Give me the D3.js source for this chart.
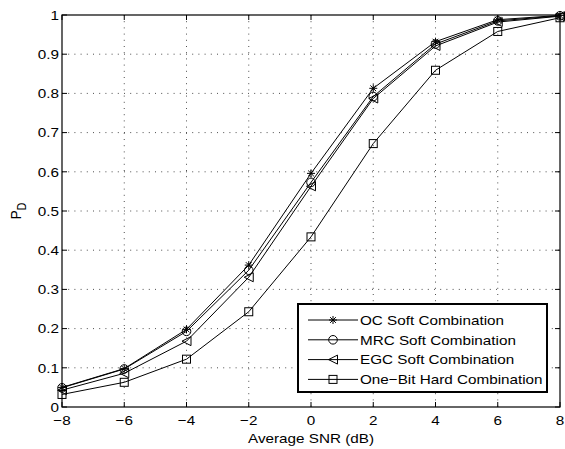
<!DOCTYPE html>
<html>
<head>
<meta charset="utf-8">
<script src="https://cdn.jsdelivr.net/npm/d3@7"></script>
<style>
html,body{margin:0;padding:0;background:#fff;}
svg{display:block;}
text{font-family:"Liberation Sans",Arial,Helvetica,sans-serif;fill:#000;}
</style>
</head>
<body>
<script>
// ---- data ----
const snr = [-8, -6, -4, -2, 0, 2, 4, 6, 8];
const ocSoft = [0.050, 0.098, 0.198, 0.362, 0.596, 0.813, 0.932, 0.988, 0.999];
const mrcSoft = [0.049, 0.097, 0.193, 0.349, 0.573, 0.792, 0.926, 0.985, 0.998];
const egcSoft = [0.043, 0.086, 0.168, 0.331, 0.563, 0.787, 0.921, 0.982, 0.997];
const oneBitHard = [0.032, 0.063, 0.122, 0.243, 0.434, 0.672, 0.859, 0.958, 0.993];
const seriesNames = ["OC Soft Combination", "MRC Soft Combination", "EGC Soft Combination", "One\u2212Bit Hard Combination"];
const seriesMarkers = ["asterisk", "circle", "triangleLeft", "square"];
const xTicks = [-8, -6, -4, -2, 0, 2, 4, 6, 8];
const yTicks = [0, 0.1, 0.2, 0.3, 0.4, 0.5, 0.6, 0.7, 0.8, 0.9, 1];
const xLabel = "Average SNR (dB)";

const W = 565, H = 449;
const FS = 13.5, SX = 1.13;
const svg = d3.select("body").append("svg").attr("width", W).attr("height", H);

const x = d3.scaleLinear().domain([-8, 8]).range([62, 560]);
const y = d3.scaleLinear().domain([0, 1]).range([407, 15]);
const [x0, x1] = x.range(), [y0, y1] = y.range();

function fmt(v) { return (v < 0 ? "\u2212" : "") + String(Math.abs(+v.toFixed(2))); }

// grid
const grid = svg.append("g").attr("stroke", "#222").attr("stroke-width", 0.8).attr("stroke-dasharray", "1,5.2");
xTicks.filter(t => t !== -8 && t !== 8).forEach(t => {
  grid.append("line").attr("x1", x(t)).attr("x2", x(t)).attr("y1", y1).attr("y2", y0);
});
yTicks.filter(t => t !== 0 && t !== 1).forEach(t => {
  grid.append("line").attr("x1", x0).attr("x2", x1).attr("y1", y(t)).attr("y2", y(t));
});

// ticks inward
const tk = svg.append("g").attr("stroke", "#000").attr("stroke-width", 1);
const TL = 5;
xTicks.forEach(t => {
  tk.append("line").attr("x1", x(t)).attr("x2", x(t)).attr("y1", y0).attr("y2", y0 - TL);
  tk.append("line").attr("x1", x(t)).attr("x2", x(t)).attr("y1", y1).attr("y2", y1 + TL);
});
yTicks.forEach(t => {
  tk.append("line").attr("x1", x0).attr("x2", x0 + TL).attr("y1", y(t)).attr("y2", y(t));
  tk.append("line").attr("x1", x1).attr("x2", x1 - TL).attr("y1", y(t)).attr("y2", y(t));
});

// tick labels
xTicks.forEach(t => {
  svg.append("text").attr("transform", `translate(${x(t)},${y0 + 17.5}) scale(${SX},1)`)
    .attr("text-anchor", "middle").attr("font-size", FS).text(fmt(t));
});
yTicks.forEach(t => {
  svg.append("text").attr("transform", `translate(${x0 - 3},${y(t) + 4.8}) scale(${SX},1)`)
    .attr("text-anchor", "end").attr("font-size", FS).text(fmt(t));
});

// axis labels
svg.append("text").attr("transform", `translate(${(x0 + x1) / 2},${443}) scale(${SX},1)`)
  .attr("text-anchor", "middle").attr("font-size", FS).text(xLabel);
const yl = svg.append("text").attr("transform", `translate(21,${(y0 + y1) / 2}) scale(${SX},1) rotate(-90)`)
  .attr("text-anchor", "middle").attr("font-size", FS);
yl.append("tspan").text("P");
yl.append("tspan").attr("dy", 4).attr("font-size", 10.5).text("D");

// markers
function marker(g, type, cx, cy) {
  const s = 4;
  if (type === "asterisk") {
    g.append("path").attr("d",
      `M${cx - s},${cy}L${cx + s},${cy}M${cx},${cy - s}L${cx},${cy + s}` +
      `M${cx - s * 0.72},${cy - s * 0.72}L${cx + s * 0.72},${cy + s * 0.72}` +
      `M${cx - s * 0.72},${cy + s * 0.72}L${cx + s * 0.72},${cy - s * 0.72}`)
      .attr("fill", "none").attr("stroke", "#000").attr("stroke-width", 1);
  } else if (type === "circle") {
    g.append("circle").attr("cx", cx).attr("cy", cy).attr("r", 4.3)
      .attr("fill", "none").attr("stroke", "#000").attr("stroke-width", 1);
  } else if (type === "triangleLeft") {
    g.append("path").attr("d", `M${cx - 4.5},${cy}L${cx + 4.5},${cy - 4.5}L${cx + 4.5},${cy + 4.5}Z`)
      .attr("fill", "none").attr("stroke", "#000").attr("stroke-width", 1);
  } else {
    g.append("rect").attr("x", cx - 4).attr("y", cy - 4).attr("width", 8).attr("height", 8)
      .attr("fill", "none").attr("stroke", "#000").attr("stroke-width", 1);
  }
}

const allSeries = [ocSoft, mrcSoft, egcSoft, oneBitHard];
const line = d3.line().x((d, i) => x(snr[i])).y(d => y(d));
const plot = svg.append("g");
allSeries.forEach((vals, si) => {
  plot.append("path").datum(vals).attr("d", line).attr("fill", "none").attr("stroke", "#000").attr("stroke-width", 1);
});
allSeries.forEach((vals, si) => {
  vals.forEach((v, i) => marker(plot, seriesMarkers[si], x(snr[i]), y(v)));
});

// axes box
svg.append("rect").attr("x", x0).attr("y", y1).attr("width", x1 - x0).attr("height", y0 - y1)
  .attr("fill", "none").attr("stroke", "#000").attr("stroke-width", 1.2);

// legend
const lg = svg.append("g");
lg.append("rect").attr("x", 298).attr("y", 304).attr("width", 249).attr("height", 88)
  .attr("fill", "#fff").attr("stroke", "#000").attr("stroke-width", 2);
seriesNames.forEach((name, i) => {
  const ry = 320 + i * 19.8;
  lg.append("line").attr("x1", 308).attr("x2", 358).attr("y1", ry).attr("y2", ry).attr("stroke", "#000").attr("stroke-width", 1);
  marker(lg, seriesMarkers[i], 333, ry);
  lg.append("text").attr("transform", `translate(360,${ry + 4.8}) scale(${SX},1)`)
    .attr("font-size", FS).text(name);
});
</script>
</body>
</html>
